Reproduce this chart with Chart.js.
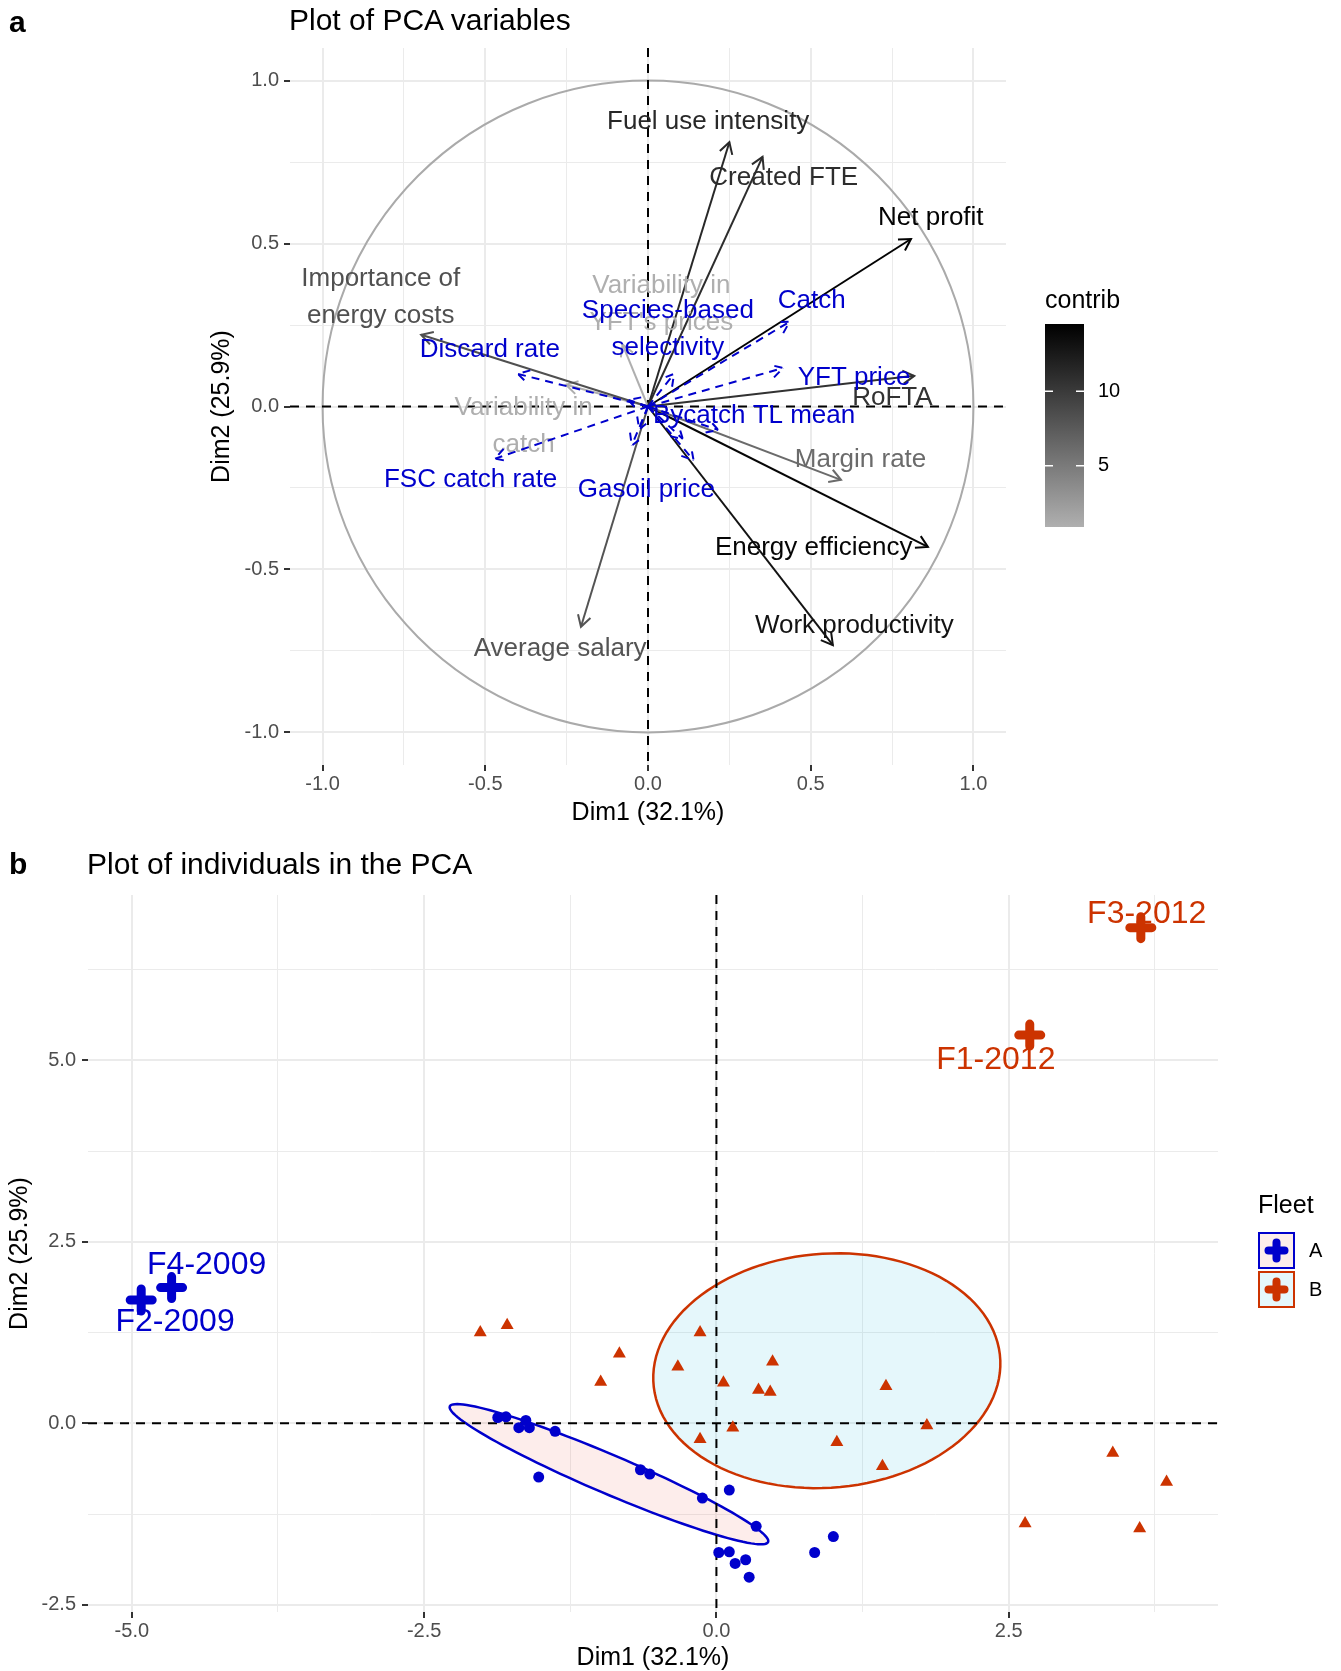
<!DOCTYPE html>
<html>
<head>
<meta charset="utf-8">
<script src="https://cdn.jsdelivr.net/npm/chart.js@4.4.1/dist/chart.umd.min.js"></script>
<style>
  body { margin: 0; background: #fff; font-family: "Liberation Sans", Arial, Helvetica, sans-serif; }
  #wrap { position: relative; width: 1341px; height: 1671px; overflow: hidden; }
  canvas { position: absolute; left: 0; }
  .tag { position: absolute; font-size: 30px; font-weight: bold; line-height: 32px; }
  .ttl { position: absolute; font-size: 30px; line-height: 32px; }
</style>
</head>
<body>
<div id="wrap">
  <canvas id="pcaVar" width="1341" height="840" style="top:0"></canvas>
  <canvas id="pcaInd" width="1341" height="831" style="top:840px"></canvas>
  <div class="tag" style="left:9px;top:6px">a</div>
  <div class="ttl" style="left:289px;top:4px">Plot of PCA variables</div>
  <div class="tag" style="left:9px;top:848px">b</div>
  <div class="ttl" style="left:87px;top:848px">Plot of individuals in the PCA</div>
</div>
<script>
const FONT = '"Liberation Sans", Arial, Helvetica, sans-serif';
Chart.defaults.font.family = FONT;

// ---- panel a : variables ----
const varNames = ["Fuel use intensity", "Created FTE", "Net profit", "RoFTA", "Margin rate",
  "Energy efficiency", "Work productivity", "Average salary", "Importance of\nenergy costs",
  "Variability in\ncatch", "Variability in\nYFT's prices"];
const varDim1 = [0.25, 0.352, 0.808, 0.818, 0.593, 0.86, 0.568, -0.206, -0.697, -0.252, -0.078];
const varDim2 = [0.811, 0.766, 0.514, 0.094, -0.225, -0.431, -0.732, -0.676, 0.22, 0.067, 0.19];
const varContrib = [11.4, 11.0, 14.3, 10.6, 6.2, 14.0, 13.0, 8.0, 8.3, 1.0, 0.9];
const varLabelDim1 = [0.185, 0.417, 0.869, 0.751, 0.653, 0.509, 0.634, -0.27, -0.821, -0.382, 0.041];
const varLabelDim2 = [0.873, 0.703, 0.578, 0.028, -0.165, -0.434, -0.673, -0.745, 0.336, -0.06, 0.313];

// supplementary variables (blue, dashed)
const supNames = ["Discard rate", "FSC catch rate", "Catch", "YFT price", "Species-based\nselectivity",
  "Bycatch TL mean", "Gasoil price", "", "", "", ""];
const supDim1 = [-0.40, -0.47, 0.435, 0.415, 0.08, 0.216, 0.107, 0.14, -0.06, -0.027, -0.05];
const supDim2 = [0.10, -0.16, 0.26, 0.118, 0.10, -0.072, -0.10, -0.165, 0.02, -0.07, -0.12];
const supLabelDim1 = [-0.486, -0.545, 0.503, 0.633, 0.061, 0.326, -0.005, null, null, null, null];
const supLabelDim2 = [0.175, -0.224, 0.323, 0.087, 0.237, -0.028, -0.257, null, null, null, null];

const varMajor = [-1, -0.5, 0, 0.5, 1];
const varMinor = [-0.75, -0.25, 0.25, 0.75];
const contribTicks = [5, 10];
const contribLow = 0.9, contribHigh = 14.5;

// ---- panel b : individuals ----
const fleetNames = ["A", "B"];
const fleetA_dim1 = [-1.87, -1.80, -1.63, -1.69, -1.60, -1.38, -1.52, -0.65, -0.57, -0.12, 0.11, 0.34,
  0.02, 0.11, 0.16, 0.25, 0.28, 0.84, 1.00];
const fleetA_dim2 = [0.08, 0.09, 0.04, -0.06, -0.06, -0.11, -0.74, -0.64, -0.70, -1.03, -0.92, -1.42,
  -1.78, -1.77, -1.93, -1.88, -2.12, -1.78, -1.56];
const fleetB_dim1 = [-2.02, -1.79, -0.99, -0.83, -0.33, -0.14, 0.06, 0.36, 0.46, 0.48, -0.14, 0.14,
  1.03, 1.45, 1.42, 1.80, 2.64, 3.39, 3.62, 3.85];
const fleetB_dim2 = [1.25, 1.35, 0.57, 0.96, 0.78, 1.25, 0.56, 0.46, 0.43, 0.85, -0.22, -0.06,
  -0.26, 0.51, -0.59, -0.03, -1.38, -0.41, -1.45, -0.81];
const namedA = ["F2-2009", "F4-2009"];
const namedA_dim1 = [-4.92, -4.66];
const namedA_dim2 = [1.70, 1.87];
const namedA_labDim1 = [-4.63, -4.36];
const namedA_labDim2 = [1.40, 2.18];
const namedB = ["F1-2012", "F3-2012"];
const namedB_dim1 = [2.68, 3.63];
const namedB_dim2 = [5.35, 6.83];
const namedB_labDim1 = [2.39, 3.68];
const namedB_labDim2 = [5.01, 7.01];

const indMajorX = [-5, -2.5, 0, 2.5];
const indMinorX = [-3.75, -1.25, 1.25, 3.75];
const indMajorY = [-2.5, 0, 2.5, 5];
const indMinorY = [-1.25, 1.25, 3.75, 6.25];

const BLUE = "#0000CC";
const RED = "#CC3300";
const ELLIPSE_K = 3.95;

function contribColor(c) {
  const t = Math.min(1, Math.max(0, (c - contribLow) / (contribHigh - contribLow)));
  const g = Math.round(175 * (1 - t));
  return `rgb(${g},${g},${g})`;
}

const pts = (xs, ys) => xs.map((v, i) => ({ x: v, y: ys[i] }));

function axis(min, max, major, minor, size, titleText, titleOpts, pad) {
  return {
    type: "linear", min, max,
    afterBuildTicks: (s) => { s.ticks = [...major, ...minor].sort((a, b) => a - b).map((v) => ({ value: v })); },
    afterFit: (s) => { if (s.isHorizontal()) s.height = size; else s.width = size; },
    border: { display: false },
    grid: {
      color: "#EBEBEB",
      lineWidth: (c) => (c.tick && major.includes(c.tick.value) ? 2 : 1),
      tickLength: 6,
      tickWidth: 2,
      tickColor: (c) => (c.tick && major.includes(c.tick.value) ? "#333333" : "rgba(0,0,0,0)"),
    },
    ticks: {
      autoSkip: false, maxRotation: 0, padding: pad, color: "#4D4D4D",
      font: { size: 20 },
      callback: (v) => (major.includes(v) ? v.toFixed(1) : ""),
    },
    title: Object.assign({ display: true, text: titleText, color: "#000", font: { size: 25, lineHeight: 1 } }, titleOpts),
  };
}

function drawHead(ctx, x0, y0, x1, y1, color, dash) {
  const ang = Math.atan2(y1 - y0, x1 - x0);
  const L = 13, A = Math.PI / 6;
  ctx.save();
  ctx.strokeStyle = color;
  ctx.lineWidth = 2;
  ctx.setLineDash(dash || []);
  ctx.beginPath();
  ctx.moveTo(x1 - L * Math.cos(ang - A), y1 - L * Math.sin(ang - A));
  ctx.lineTo(x1, y1);
  ctx.lineTo(x1 - L * Math.cos(ang + A), y1 - L * Math.sin(ang + A));
  ctx.stroke();
  ctx.restore();
}

function drawLabel(ctx, text, x, y, color, size, lh) {
  const lines = text.split("\n");
  ctx.save();
  ctx.fillStyle = color;
  ctx.font = `${size}px ${FONT}`;
  ctx.textAlign = "center";
  ctx.textBaseline = "middle";
  lines.forEach((ln, i) => ctx.fillText(ln, x, y + (i - (lines.length - 1) / 2) * lh));
  ctx.restore();
}

// ----- chart a -----
const supSets = supNames.map((n, i) => ({
  label: n || "sup" + i,
  data: [{ x: 0, y: 0 }, { x: supDim1[i], y: supDim2[i] }],
  showLine: true, pointRadius: 0, borderColor: BLUE, borderWidth: 2, borderDash: [8, 6],
}));
const varSets = varNames.map((n, i) => ({
  label: n,
  data: [{ x: 0, y: 0 }, { x: varDim1[i], y: varDim2[i] }],
  showLine: true, pointRadius: 0, borderColor: contribColor(varContrib[i]), borderWidth: 2,
}));
const activeStart = supSets.length;

const varPlugin = {
  id: "varDecor",
  beforeDatasetsDraw(chart) {
    const { ctx, chartArea: a, scales: { x, y } } = chart;
    const cx = x.getPixelForValue(0), cy = y.getPixelForValue(0);
    ctx.save();
    ctx.strokeStyle = "#AAAAAA";
    ctx.lineWidth = 2;
    ctx.beginPath();
    ctx.ellipse(cx, cy, x.getPixelForValue(1) - cx, cy - y.getPixelForValue(1), 0, 0, Math.PI * 2);
    ctx.stroke();
    ctx.strokeStyle = "#000";
    ctx.setLineDash([9, 7]);
    ctx.beginPath();
    ctx.moveTo(a.left, cy); ctx.lineTo(a.right, cy);
    ctx.moveTo(cx, a.top); ctx.lineTo(cx, a.bottom);
    ctx.stroke();
    ctx.restore();
  },
  afterDatasetDraw(chart, args) {
    const ds = chart.data.datasets[args.index];
    const [p0, p1] = args.meta.data;
    drawHead(chart.ctx, p0.x, p0.y, p1.x, p1.y, ds.borderColor, ds.borderDash);
    if (args.index === activeStart) {
      const { x, y } = chart.scales;
      varNames.forEach((n, i) => drawLabel(chart.ctx, n, x.getPixelForValue(varLabelDim1[i]),
        y.getPixelForValue(varLabelDim2[i]), contribColor(varContrib[i]), 26, 37));
    }
  },
  afterDatasetsDraw(chart) {
    const { x, y } = chart.scales;
    supNames.forEach((n, i) => {
      if (!n) return;
      drawLabel(chart.ctx, n, x.getPixelForValue(supLabelDim1[i]), y.getPixelForValue(supLabelDim2[i]), BLUE, 26, 37);
    });
  },
  afterDraw(chart) {
    const ctx = chart.ctx;
    const bx = 1045, bw = 39, top = 324, bot = 527;
    ctx.save();
    ctx.fillStyle = "#000";
    ctx.font = `25px ${FONT}`;
    ctx.textBaseline = "middle";
    ctx.fillText("contrib", bx, 301);
    const g = ctx.createLinearGradient(0, top, 0, bot);
    g.addColorStop(0, contribColor(contribHigh));
    g.addColorStop(1, contribColor(contribLow));
    ctx.fillStyle = g;
    ctx.fillRect(bx, top, bw, bot - top);
    ctx.strokeStyle = "#fff";
    ctx.lineWidth = 1.5;
    ctx.font = `20px ${FONT}`;
    contribTicks.forEach((v) => {
      const ty = top + (contribHigh - v) / (contribHigh - contribLow) * (bot - top);
      ctx.beginPath();
      ctx.moveTo(bx, ty); ctx.lineTo(bx + 8, ty);
      ctx.moveTo(bx + bw - 8, ty); ctx.lineTo(bx + bw, ty);
      ctx.stroke();
      ctx.fillStyle = "#000";
      ctx.fillText(String(v), bx + bw + 14, ty);
    });
    ctx.restore();
  },
};

new Chart(document.getElementById("pcaVar"), {
  type: "scatter",
  data: { datasets: [...supSets, ...varSets] },
  options: {
    responsive: false, animation: false, devicePixelRatio: 1,
    layout: { padding: { left: 0, top: 48, right: 335, bottom: 0 } },
    plugins: { legend: { display: false }, tooltip: { enabled: false } },
    scales: {
      x: axis(-1.1, 1.1, varMajor, varMinor, 75, "Dim1 (32.1%)", { padding: { top: 0, bottom: 14 } }, 1),
      y: axis(-1.1, 1.1, varMajor, varMinor, 290, "Dim2 (25.9%)", { padding: { top: 210, bottom: 0 } }, 5),
    },
  },
  plugins: [varPlugin],
});

// ----- chart b -----
function confEllipse(xs, ys) {
  const n = xs.length;
  const mx = xs.reduce((s, v) => s + v, 0) / n;
  const my = ys.reduce((s, v) => s + v, 0) / n;
  let sxx = 0, syy = 0, sxy = 0;
  for (let i = 0; i < n; i++) {
    const dx = xs[i] - mx, dy = ys[i] - my;
    sxx += dx * dx; syy += dy * dy; sxy += dx * dy;
  }
  const a = sxx / (n - 1) / n, d = syy / (n - 1) / n, b = sxy / (n - 1) / n;
  const tr = a + d, disc = Math.sqrt(Math.max(0, tr * tr / 4 - (a * d - b * b)));
  const l1 = tr / 2 + disc, l2 = Math.max(0, tr / 2 - disc);
  const th = Math.abs(b) < 1e-12 ? (a >= d ? 0 : Math.PI / 2) : Math.atan2(l1 - a, b);
  const out = [];
  for (let k = 0; k <= 120; k++) {
    const t = (k / 120) * Math.PI * 2;
    const u = ELLIPSE_K * Math.sqrt(l1) * Math.cos(t), v = ELLIPSE_K * Math.sqrt(l2) * Math.sin(t);
    out.push([mx + u * Math.cos(th) - v * Math.sin(th), my + u * Math.sin(th) + v * Math.cos(th)]);
  }
  return out;
}

function drawCross(ctx, x, y, half, w, color) {
  ctx.save();
  ctx.strokeStyle = color;
  ctx.lineWidth = w;
  ctx.lineCap = "round";
  ctx.beginPath();
  ctx.moveTo(x - half, y); ctx.lineTo(x + half, y);
  ctx.moveTo(x, y - half); ctx.lineTo(x, y + half);
  ctx.stroke();
  ctx.restore();
}

const groups = [
  { color: BLUE, fill: "rgba(240, 80, 60, 0.1)", xs: [...fleetA_dim1, ...namedA_dim1], ys: [...fleetA_dim2, ...namedA_dim2] },
  { color: RED, fill: "rgba(0, 175, 215, 0.1)", xs: [...fleetB_dim1, ...namedB_dim1], ys: [...fleetB_dim2, ...namedB_dim2] },
];

const indPlugin = {
  id: "indDecor",
  beforeDatasetsDraw(chart) {
    const { ctx, chartArea: a, scales: { x, y } } = chart;
    ctx.save();
    groups.forEach((g) => {
      const poly = confEllipse(g.xs, g.ys);
      ctx.beginPath();
      poly.forEach(([px, py], i) => {
        const X = x.getPixelForValue(px), Y = y.getPixelForValue(py);
        if (i === 0) ctx.moveTo(X, Y); else ctx.lineTo(X, Y);
      });
      ctx.closePath();
      ctx.fillStyle = g.fill;
      ctx.fill();
      ctx.strokeStyle = g.color;
      ctx.lineWidth = 2.5;
      ctx.stroke();
    });
    const cx = x.getPixelForValue(0), cy = y.getPixelForValue(0);
    ctx.strokeStyle = "#000";
    ctx.lineWidth = 2;
    ctx.setLineDash([9, 7]);
    ctx.beginPath();
    ctx.moveTo(a.left, cy); ctx.lineTo(a.right, cy);
    ctx.moveTo(cx, a.top); ctx.lineTo(cx, a.bottom);
    ctx.stroke();
    ctx.restore();
  },
  afterDatasetsDraw(chart) {
    const { ctx, scales: { x, y } } = chart;
    [[0, BLUE], [1, RED]].forEach(([idx, col]) => {
      chart.getDatasetMeta(idx).data.forEach((p) => drawCross(ctx, p.x, p.y, 11, 9, col));
    });
    namedA.forEach((n, i) => drawLabel(ctx, n, x.getPixelForValue(namedA_labDim1[i]), y.getPixelForValue(namedA_labDim2[i]), BLUE, 32, 36));
    namedB.forEach((n, i) => drawLabel(ctx, n, x.getPixelForValue(namedB_labDim1[i]), y.getPixelForValue(namedB_labDim2[i]), RED, 32, 36));
  },
  afterDraw(chart) {
    const ctx = chart.ctx;
    ctx.save();
    ctx.fillStyle = "#000";
    ctx.font = `25px ${FONT}`;
    ctx.textBaseline = "middle";
    ctx.fillText("Fleet", 1258, 366);
    ctx.font = `20px ${FONT}`;
    fleetNames.forEach((n, i) => {
      const top = 393 + i * 39, left = 1259, s = 35;
      ctx.fillStyle = groups[i].fill;
      ctx.fillRect(left, top, s, s);
      ctx.strokeStyle = groups[i].color;
      ctx.lineWidth = 2;
      ctx.strokeRect(left, top, s, s);
      drawCross(ctx, left + s / 2, top + s / 2, 8, 8, groups[i].color);
      ctx.fillStyle = "#000";
      ctx.fillText(n, 1309, top + s / 2 + 1);
    });
    ctx.restore();
  },
};

new Chart(document.getElementById("pcaInd"), {
  type: "scatter",
  data: {
    datasets: [
      { label: "named A", data: pts(namedA_dim1, namedA_dim2), pointRadius: 0 },
      { label: "named B", data: pts(namedB_dim1, namedB_dim2), pointRadius: 0 },
      { label: "A", data: pts(fleetA_dim1, fleetA_dim2), pointStyle: "circle", pointRadius: 5.5,
        backgroundColor: BLUE, borderWidth: 0 },
      { label: "B", data: pts(fleetB_dim1, fleetB_dim2), pointStyle: "triangle", pointRadius: 7.5,
        backgroundColor: RED, borderWidth: 0 },
    ],
  },
  options: {
    responsive: false, animation: false, devicePixelRatio: 1,
    layout: { padding: { left: 0, top: 55, right: 123, bottom: 0 } },
    plugins: { legend: { display: false }, tooltip: { enabled: false } },
    scales: {
      x: axis(-5.375, 4.29, indMajorX, indMinorX, 59, "Dim1 (32.1%)", { padding: { top: 0, bottom: 0 } }, 1),
      y: axis(-2.6, 7.28, indMajorY, indMinorY, 88, "Dim2 (25.9%)", { padding: { top: 8, bottom: 0 } }, 6),
    },
  },
  plugins: [indPlugin],
});
</script>
</body>
</html>
